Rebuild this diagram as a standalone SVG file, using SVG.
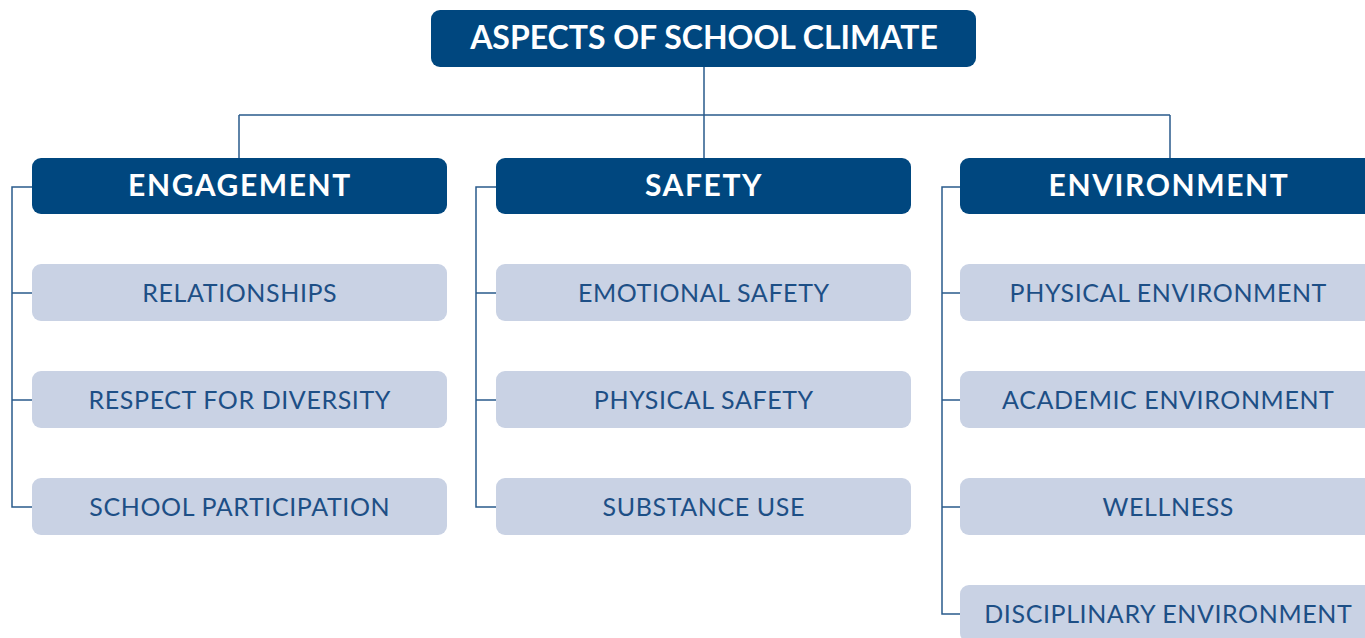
<svg xmlns="http://www.w3.org/2000/svg" width="1365" height="638" viewBox="0 0 1365 638">
<style>
.hd{fill:#00477f}
.ch{fill:#c9d2e4}
.th{font-family:Lato,"Liberation Sans",sans-serif;font-weight:bold;fill:#fff;text-anchor:middle}
.ts{letter-spacing:1.6px}
.tc{font-family:Lato,"Liberation Sans",sans-serif;font-weight:400;font-size:25px;letter-spacing:0.6px;fill:#1d4f86;text-anchor:middle}
.ln{fill:none;stroke:#2a5b8c;stroke-width:1.5}
</style>
<rect width="1365" height="638" fill="#fff"/>
<g id="connectors" class="ln">
<path d="M704 67V115M239 115H1170M239 115V158M704 115V158M1170 115V158"/>
<path d="M32 187H12V507H32M12 293H32M12 400H32"/>
<path d="M496 187H476V507H496M476 293H496M476 400H496"/>
<path d="M960 187H942V614H960M942 293H960M942 400H960M942 507H960"/>
</g>
<g id="root"><rect class="hd" x="431" y="10" width="545" height="57" rx="9"/><text class="th" x="704" y="49" font-size="32">ASPECTS OF SCHOOL CLIMATE</text></g>
<g id="engagement"><rect class="hd" x="32" y="158" width="415" height="56" rx="9"/><text class="th ts" x="240" y="196" font-size="30">ENGAGEMENT</text></g>
<g id="safety"><rect class="hd" x="496" y="158" width="415" height="56" rx="9"/><text class="th ts" x="704" y="196" font-size="30">SAFETY</text></g>
<g id="environment"><rect class="hd" x="960" y="158" width="415" height="56" rx="9"/><text class="th ts" x="1169" y="196" font-size="30">ENVIRONMENT</text></g>
<g id="relationships"><rect class="ch" x="32" y="264" width="415" height="57" rx="9"/><text class="tc" x="239.8" y="302">RELATIONSHIPS</text></g>
<g id="respect"><rect class="ch" x="32" y="371" width="415" height="57" rx="9"/><text class="tc" x="239.8" y="409">RESPECT FOR DIVERSITY</text></g>
<g id="participation"><rect class="ch" x="32" y="478" width="415" height="57" rx="9"/><text class="tc" x="239.8" y="516">SCHOOL PARTICIPATION</text></g>
<g id="emotional"><rect class="ch" x="496" y="264" width="415" height="57" rx="9"/><text class="tc" x="703.8" y="302">EMOTIONAL SAFETY</text></g>
<g id="physical-safety"><rect class="ch" x="496" y="371" width="415" height="57" rx="9"/><text class="tc" x="703.8" y="409">PHYSICAL SAFETY</text></g>
<g id="substance"><rect class="ch" x="496" y="478" width="415" height="57" rx="9"/><text class="tc" x="703.8" y="516">SUBSTANCE USE</text></g>
<g id="physical-env"><rect class="ch" x="960" y="264" width="415" height="57" rx="9"/><text class="tc" x="1168.3" y="302">PHYSICAL ENVIRONMENT</text></g>
<g id="academic"><rect class="ch" x="960" y="371" width="415" height="57" rx="9"/><text class="tc" x="1168.3" y="409">ACADEMIC ENVIRONMENT</text></g>
<g id="wellness"><rect class="ch" x="960" y="478" width="415" height="57" rx="9"/><text class="tc" x="1168.3" y="516">WELLNESS</text></g>
<g id="disciplinary"><rect class="ch" x="960" y="585" width="415" height="57" rx="9"/><text class="tc" x="1168.3" y="623">DISCIPLINARY ENVIRONMENT</text></g>
</svg>
